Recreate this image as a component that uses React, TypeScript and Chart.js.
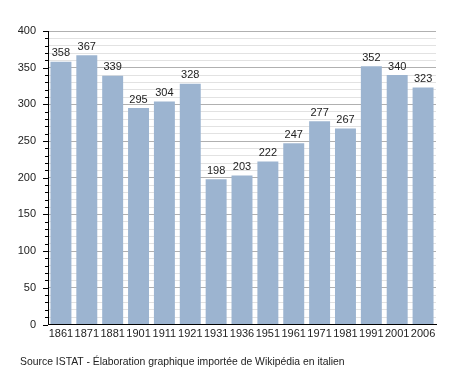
import React, { useEffect, useRef } from "react";
import { Chart, registerables } from "chart.js";

Chart.register(...registerables);

const categories = ["1861", "1871", "1881", "1901", "1911", "1921", "1931", "1936", "1951", "1961", "1971", "1981", "1991", "2001", "2006"];
const population = [358, 367, 339, 295, 304, 328, 198, 203, 222, 247, 277, 267, 352, 340, 323];
const yMin = 0;
const yMax = 400;
const yStep = 10;
const yLabelStep = 50;
const sourceText = "Source ISTAT - Élaboration graphique importée de Wikipédia en italien";

const FONT = "'Liberation Sans', Arial, sans-serif";

const valueLabels = {
  id: "valueLabels",
  afterDatasetsDraw(chart: any) {
    const ctx = chart.ctx;
    const meta = chart.getDatasetMeta(0);
    ctx.save();
    ctx.font = `11px ${FONT}`;
    ctx.fillStyle = "#222";
    ctx.textAlign = "center";
    ctx.textBaseline = "bottom";
    meta.data.forEach((bar: any, i: number) => {
      ctx.fillText(String(chart.data.datasets[0].data[i]), bar.x, bar.y - 3);
    });
    ctx.restore();
  },
};

const axisTicks = {
  id: "axisTicks",
  afterDraw(chart: any) {
    const ctx = chart.ctx;
    const y = chart.scales.y;
    const left = chart.chartArea.left;
    ctx.save();
    ctx.strokeStyle = "#000";
    ctx.lineWidth = 1;
    for (let v = yMin; v <= yMax; v += yStep) {
      const py = Math.round(y.getPixelForValue(v)) + 0.5;
      const len = v % yLabelStep === 0 ? 5 : 3;
      ctx.beginPath();
      ctx.moveTo(left - len, py);
      ctx.lineTo(left, py);
      ctx.stroke();
    }
    ctx.restore();
  },
};

export default function App() {
  const ref = useRef<HTMLCanvasElement | null>(null);
  useEffect(() => {
    if (!ref.current) return;
    const chart = new Chart(ref.current, {
      type: "bar",
      data: {
        labels: categories,
        datasets: [
          {
            data: population,
            backgroundColor: "#9cb4d0",
            borderWidth: 0,
            barPercentage: 0.81,
            categoryPercentage: 1,
          },
        ],
      },
      options: {
        responsive: false,
        animation: false,
        layout: { padding: { left: 8, right: 28, top: 31, bottom: 27.5 } },
        plugins: { legend: { display: false }, tooltip: { enabled: false } },
        scales: {
          x: {
            grid: { display: false, drawTicks: false },
            border: { color: "#000", width: 1 },
            ticks: { color: "#222", font: { family: FONT, size: 11 }, padding: 3, maxRotation: 0, autoSkip: false },
            afterFit: (s: any) => { s.height = 21; },
          },
          y: {
            min: yMin,
            max: yMax,
            grid: {
              drawTicks: false,
              color: (c: any) => (c.tick && c.tick.value % yLabelStep === 0 ? "#b0b0b0" : "#e2e2e2"),
            },
            border: { color: "#000", width: 1 },
            ticks: {
              stepSize: yStep,
              autoSkip: false,
              padding: 12,
              color: "#222",
              font: { family: FONT, size: 11 },
              callback: (v: any) => (Number(v) % yLabelStep === 0 ? String(v) : ""),
            },
            afterFit: (s: any) => { s.width = 40; },
          },
        },
      },
      plugins: [valueLabels, axisTicks],
    });
    return () => chart.destroy();
  }, []);
  return (
    <div style={{ position: "absolute", left: 0, top: 0, width: 464, height: 373, background: "#fff" }}>
      <canvas ref={ref} width={464} height={373} style={{ width: 464, height: 373, display: "block" }} />
      <div
        style={{
          position: "absolute",
          left: 20,
          top: 355,
          fontFamily: FONT,
          fontSize: 10.4,
          lineHeight: "13px",
          color: "#222",
          whiteSpace: "nowrap",
        }}
      >
        {sourceText}
      </div>
    </div>
  );
}
